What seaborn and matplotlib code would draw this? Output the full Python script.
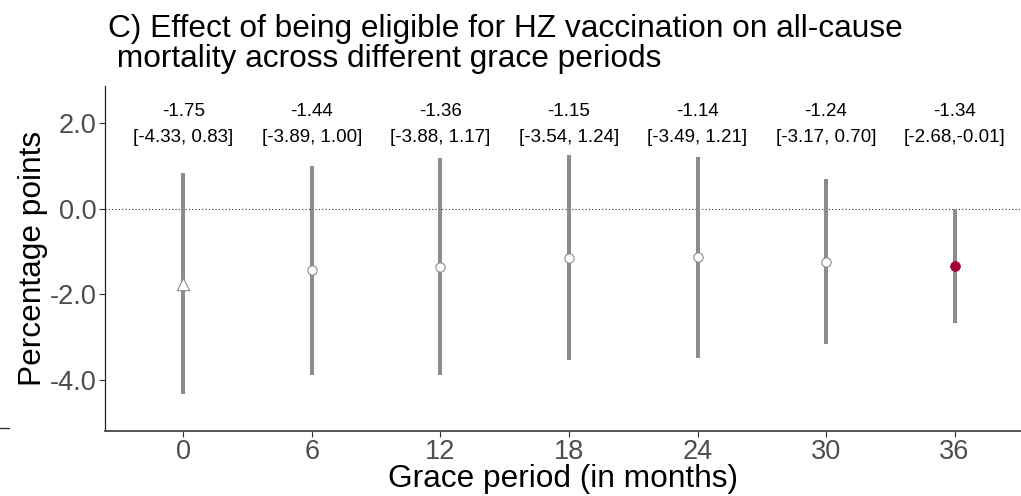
import matplotlib
matplotlib.use("Agg")
import matplotlib.pyplot as plt
import numpy as np
import pandas as pd
import seaborn as sns
from matplotlib.lines import Line2D

# data
grace_months = [0, 6, 12, 18, 24, 30, 36]
estimates = [-1.75, -1.44, -1.36, -1.15, -1.14, -1.24, -1.34]
ci_low = [-4.33, -3.89, -3.88, -3.54, -3.49, -3.17, -2.68]
ci_high = [0.83, 1.00, 1.17, 1.24, 1.21, 0.70, -0.01]
point_kind = ["main", "other", "other", "other", "other", "other", "significant"]
ci_labels = ["[-4.33, 0.83]", "[-3.89, 1.00]", "[-3.88, 1.17]", "[-3.54, 1.24]",
             "[-3.49, 1.21]", "[-3.17, 0.70]", "[-2.68,-0.01]"]
yticks = [2.0, 0.0, -2.0, -4.0]

df = pd.DataFrame({
    "grace": grace_months,
    "est": estimates,
    "lo": ci_low,
    "hi": ci_high,
    "kind": point_kind,
    "ci_label": ci_labels,
})

sns.set_theme(style="ticks")
plt.rcParams["font.family"] = ["Liberation Sans", "DejaVu Sans"]

GREY = "#8C8C8C"
RED = "#A3003A"

fig = plt.figure(figsize=(10.21, 4.96), dpi=100)
ax = fig.add_axes([0.1028, 0.131, 0.8972, 0.6956])

ax.axhline(0, color="#333333", lw=0.8, ls=(0, (1, 2)), zorder=1)
ax.vlines(df["grace"], df["lo"], df["hi"], color=GREY, lw=2.9, zorder=2)

sns.scatterplot(data=df[df["kind"] == "main"], x="grace", y="est", marker="^",
                s=80, color="white", edgecolor=GREY, linewidth=0.8, ax=ax, zorder=3)
sns.scatterplot(data=df[df["kind"] == "other"], x="grace", y="est", marker="o",
                s=45, color="white", edgecolor=GREY, linewidth=0.8, ax=ax, zorder=3)
sns.scatterplot(data=df[df["kind"] == "significant"], x="grace", y="est", marker="o",
                s=50, color=RED, edgecolor=RED, linewidth=0.5, ax=ax, zorder=3)

for _, row in df.iterrows():
    ax.text(row["grace"], 2.26, f"{row['est']:.2f}", ha="center", va="center", fontsize=13.5, color="black")
    ax.text(row["grace"], 1.65, row["ci_label"], ha="center", va="center", fontsize=13.5, color="black")

ax.set_xlim(-3.66, 39.1)
ax.set_ylim(-5.19, 2.86)
ax.set_xticks(grace_months)
ax.set_xticklabels([str(g) for g in grace_months])
ax.set_yticks(yticks)
ax.set_yticklabels([f"{t:.1f}" for t in yticks])
ax.tick_params(axis="both", labelsize=19.5, labelcolor="#4D4D4D", color="#333333", length=4, width=0.8, pad=2)

for side in ["top", "right"]:
    ax.spines[side].set_visible(False)
ax.spines["left"].set_color("#222222")
ax.spines["left"].set_linewidth(0.9)
ax.spines["bottom"].set_color("#555555")
ax.spines["bottom"].set_linewidth(1.4)

ax.set_xlabel("Grace period (in months)", fontsize=22.8, color="black", labelpad=-1)
ax.set_ylabel("Percentage points", fontsize=22.8, color="black", labelpad=1)

fig.text(108 / 1021, 1 - 14 / 496,
         "C) Effect of being eligible for HZ vaccination on all-cause\n mortality across different grace periods",
         ha="left", va="top", fontsize=22.8, color="black", linespacing=1.02)

# stray tick fragment at the lower left edge
fig.add_artist(Line2D([0, 9 / 1021], [1 - 428 / 496, 1 - 428 / 496], color="#333333", lw=1))

fig.savefig("out.png", dpi=100)
